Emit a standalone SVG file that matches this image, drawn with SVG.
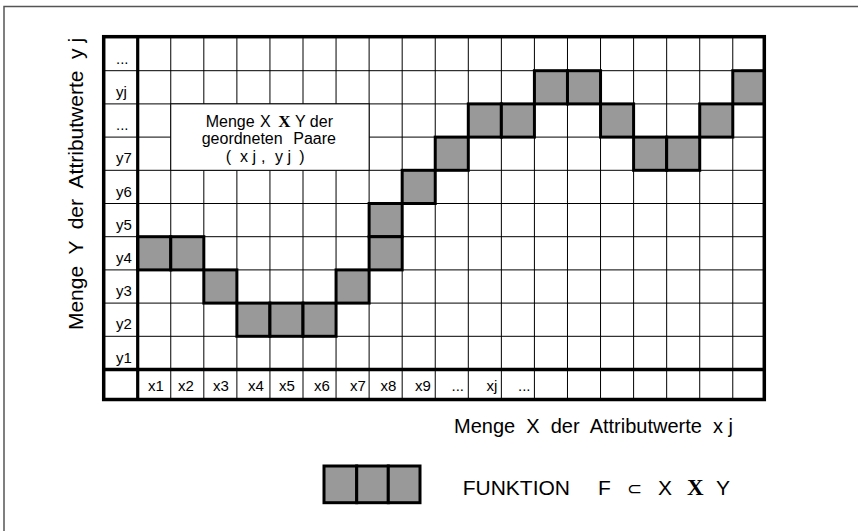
<svg xmlns="http://www.w3.org/2000/svg" width="858" height="531" viewBox="0 0 858 531">
<style>
text{font-family:"Liberation Sans",Arial,sans-serif;fill:#000}
.lbl{font-size:15px}
.box{font-size:16px}
.serifb{font-family:"Liberation Serif","Times New Roman",serif;font-weight:bold}
.thin{stroke:#000;stroke-width:1;fill:none}
.thick{stroke:#000;fill:none}
.hi{fill:#999;stroke:#000;stroke-width:3}
</style>
<rect width="858" height="531" fill="#fff"/>
<polyline id="frame" points="4,531 4,6.5 858,6.5" fill="none" stroke="#555" stroke-width="1.5"/>

<g id="grid">
<path class="thin" d="M170.76 36.7V399.5M203.82 36.7V399.5M236.88 36.7V399.5M269.94 36.7V399.5M303 36.7V399.5M336.06 36.7V399.5M369.12 36.7V399.5M402.18 36.7V399.5M435.24 36.7V399.5M468.3 36.7V399.5M501.36 36.7V399.5M534.42 36.7V399.5M567.48 36.7V399.5M600.54 36.7V399.5M633.6 36.7V399.5M666.66 36.7V399.5M699.72 36.7V399.5M732.78 36.7V399.5"/>
<path class="thin" d="M103.7 70.7H764.3M103.7 103.9H764.3M103.7 137.1H764.3M103.7 170.3H764.3M103.7 203.5H764.3M103.7 236.7H764.3M103.7 269.9H764.3M103.7 303.1H764.3M103.7 336.3H764.3"/>
</g>

<g id="pairs-box">
<rect x="170.76" y="103.9" width="198.36" height="66.4" fill="#fff" stroke="#000" stroke-width="1"/>
<text class="box" y="126.7"><tspan x="205.7">Menge</tspan><tspan x="260">X</tspan><tspan x="278.3" class="serifb" font-size="17">X</tspan><tspan x="295">Y der</tspan></text>
<text class="box" y="144.3"><tspan x="201.7">geordneten</tspan><tspan x="293.3">Paare</tspan></text>
<text class="box" y="161.7"><tspan x="225.7">(</tspan><tspan x="240">x j</tspan><tspan x="261">,</tspan><tspan x="275">y j</tspan><tspan x="299.3">)</tspan></text>
</g>

<g id="function-cells">
<rect class="hi" x="137.7" y="236.7" width="33.06" height="33.2"/>
<rect class="hi" x="170.76" y="236.7" width="33.06" height="33.2"/>
<rect class="hi" x="203.82" y="269.9" width="33.06" height="33.2"/>
<rect class="hi" x="236.88" y="303.1" width="33.06" height="33.2"/>
<rect class="hi" x="269.94" y="303.1" width="33.06" height="33.2"/>
<rect class="hi" x="303" y="303.1" width="33.06" height="33.2"/>
<rect class="hi" x="336.06" y="269.9" width="33.06" height="33.2"/>
<rect class="hi" x="369.12" y="203.5" width="33.06" height="33.2"/>
<rect class="hi" x="369.12" y="236.7" width="33.06" height="33.2"/>
<rect class="hi" x="402.18" y="170.3" width="33.06" height="33.2"/>
<rect class="hi" x="435.24" y="137.1" width="33.06" height="33.2"/>
<rect class="hi" x="468.3" y="103.9" width="33.06" height="33.2"/>
<rect class="hi" x="501.36" y="103.9" width="33.06" height="33.2"/>
<rect class="hi" x="534.42" y="70.7" width="33.06" height="33.2"/>
<rect class="hi" x="567.48" y="70.7" width="33.06" height="33.2"/>
<rect class="hi" x="600.54" y="103.9" width="33.06" height="33.2"/>
<rect class="hi" x="633.6" y="137.1" width="33.06" height="33.2"/>
<rect class="hi" x="666.66" y="137.1" width="33.06" height="33.2"/>
<rect class="hi" x="699.72" y="103.9" width="33.06" height="33.2"/>
<rect class="hi" x="732.78" y="70.7" width="31.52" height="33.2"/>
</g>

<g id="borders">
<rect class="thick" x="103.7" y="36.7" width="660.6" height="362.8" stroke-width="3.5"/>
<line class="thick" x1="137.7" y1="36.7" x2="137.7" y2="399.5" stroke-width="3.2"/>
<line class="thick" x1="103.7" y1="369.5" x2="764.3" y2="369.5" stroke-width="3.5"/>
</g>

<g id="row-labels" class="lbl">
<text x="116" y="63.7">...</text>
<text x="116" y="96.9">yj</text>
<text x="116" y="130.1">...</text>
<text x="116" y="163.3">y7</text>
<text x="116" y="196.5">y6</text>
<text x="116" y="229.7">y5</text>
<text x="116" y="262.9">y4</text>
<text x="116" y="296.1">y3</text>
<text x="116" y="329.3">y2</text>
<text x="116" y="362.5">y1</text>
</g>

<g id="col-labels" class="lbl">
<text x="148" y="390.7">x1</text>
<text x="178" y="390.7">x2</text>
<text x="213" y="390.7">x3</text>
<text x="248" y="390.7">x4</text>
<text x="279" y="390.7">x5</text>
<text x="314" y="390.7">x6</text>
<text x="350" y="390.7">x7</text>
<text x="380.5" y="390.7">x8</text>
<text x="415" y="390.7">x9</text>
<text x="451.5" y="390.7">...</text>
<text x="486.5" y="390.7">xj</text>
<text x="518" y="390.7">...</text>
</g>

<g id="axis-labels">
<text x="83" y="184" font-size="21" text-anchor="middle" transform="rotate(-90 83 184)" xml:space="preserve">Menge  Y  der  Attributwerte  y j</text>
<text x="454" y="433" font-size="20" xml:space="preserve">Menge  X  der  Attributwerte  x j</text>
</g>

<g id="legend">
<rect class="hi" x="324" y="466" width="32.7" height="36.7"/>
<rect class="hi" x="356.7" y="466" width="31.6" height="36.7"/>
<rect class="hi" x="388.3" y="466" width="31.7" height="36.7"/>
<text y="495" font-size="21"><tspan x="462.7">FUNKTION</tspan><tspan x="598">F</tspan><tspan x="627" font-family="DejaVu Sans,sans-serif" font-size="18">⊂</tspan><tspan x="658">X</tspan><tspan x="687" class="serifb" font-size="23">X</tspan><tspan x="716">Y</tspan></text>
</g>
</svg>
